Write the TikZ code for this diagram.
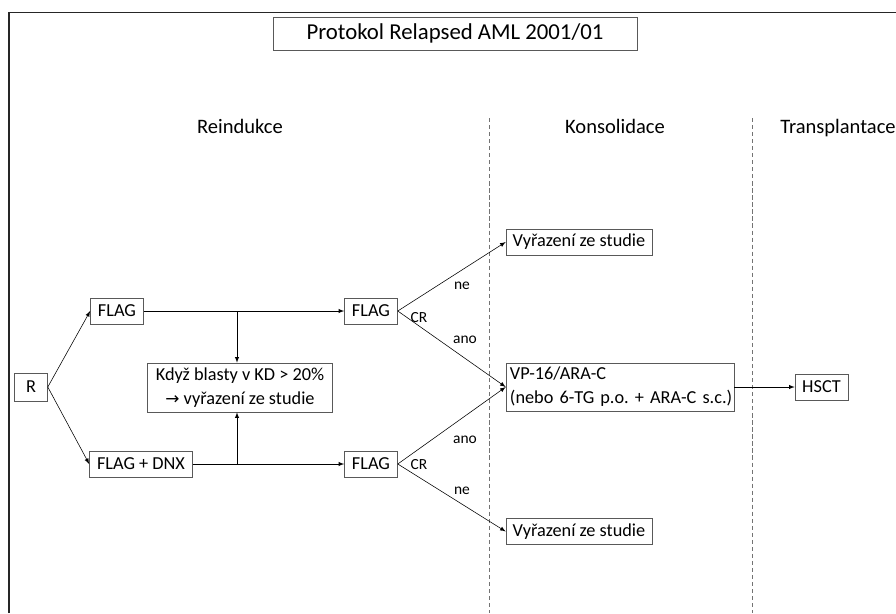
\documentclass[tikz,border=0pt]{standalone}
\usepackage{fontspec}
\setmainfont{Carlito}
\newfontfamily\arrowfont{DejaVu Sans}
\usetikzlibrary{positioning,calc}
\tikzstyle{box}=[rectangle,draw=black!65,inner sep=0.5mm,minimum height=0.65cm,font=\fontsize{13}{17}\selectfont\frenchspacing]
\tikzstyle{phase}=[font=\fontsize{14.6}{17}\selectfont,text height=1.6ex,text depth=0.45ex]
\tikzstyle{lbl}=[font=\fontsize{11}{13}\selectfont]
\tikzstyle{divider}=[draw=black!55,densely dashed,line width=0.5pt]

\begin{document}
\begin{tikzpicture}[x=0.025cm, y=-0.025cm, >=latex]
  \useasboundingbox (0, 0) rectangle (896, 613);
  \draw [line width=0.9pt, black!85] (9, 613) -- (9, 12.5) -- (896, 12.5);

  \node [box, minimum width=9.1cm, minimum height=0.825cm, font=\fontsize{16.2}{18}\selectfont] at (455, 33.5) (title) {Protokol Relapsed AML 2001/01};

  \node [phase] at (240, 130) (reind) {Reindukce};
  \node [phase] at (615, 130) (kons)  {Konsolidace};
  \node [phase] at (838, 130) (trans) {Transplantace};

  \draw [divider] (489, 118) -- (489, 613);
  \draw [divider] (752, 118) -- (752, 613);

  \node [box, minimum width=0.825cm, minimum height=0.7cm] at (31, 387)   (r)      {R};
  \node [box, minimum width=1.325cm] at (117, 311)                        (flaga)  {FLAG};
  \node [box, minimum width=2.575cm] at (141, 464)                        (flagdnx) {FLAG + DNX};
  \node [box, minimum width=4.625cm, minimum height=1.225cm, align=center] at (240, 387.5) (vyrkd)
        {Když blasty v KD > 20\%\\{\arrowfont\fontsize{12}{13}\selectfont →} vyřazení ze studie};
  \node [box, minimum width=1.325cm] at (371, 311)                        (flagb)  {FLAG};
  \node [box, minimum width=1.325cm] at (371, 464)                        (flagc)  {FLAG};
  \node [box, minimum width=3.65cm] at (579, 242)                         (vyrtop) {Vyřazení ze studie};
  \node [box, text width=5.5cm, inner xsep=0.1cm, minimum height=1.2cm, align=left] at (620, 387) (vp)
        {\hbox{VP-16/ARA-C}\\\hbox{(nebo 6-TG p.o. + ARA-C s.c.)}};
  \node [box, minimum width=3.65cm] at (579, 531.5)                       (vyrbot) {Vyřazení ze studie};
  \node [box, minimum width=1.325cm] at (821.5, 387)                      (hsct)   {HSCT};

  \coordinate (splita) at (237, 311);
  \coordinate (splitb) at (237, 464);

  \draw [->] (r.east) to (flaga.west);
  \draw [->] (r.east) to (flagdnx.west);
  \draw [->] (flaga) to (flagb);
  \draw [->] (flagdnx) to (flagc);
  \draw [->] (splita) to (splita |- vyrkd.north);
  \draw [->] (splitb) to (splitb |- vyrkd.south);

  \draw [->] (flagb.east) to (vyrtop.west);
  \draw [->] (flagb.east) to (vp.west);
  \draw [->] (flagc.east) to (vp.west);
  \draw [->] (flagc.east) to (vyrbot.west);
  \draw [->] (vp) to (hsct);

  \node [lbl] at (462, 286) (nea)  {ne};
  \node [lbl] at (419, 318) (cra)  {CR};
  \node [lbl] at (465, 340) (anoa) {ano};
  \node [lbl] at (465, 440) (anob) {ano};
  \node [lbl] at (419, 465) (crb)  {CR};
  \node [lbl] at (462, 491) (neb)  {ne};
\end{tikzpicture}
\end{document}
